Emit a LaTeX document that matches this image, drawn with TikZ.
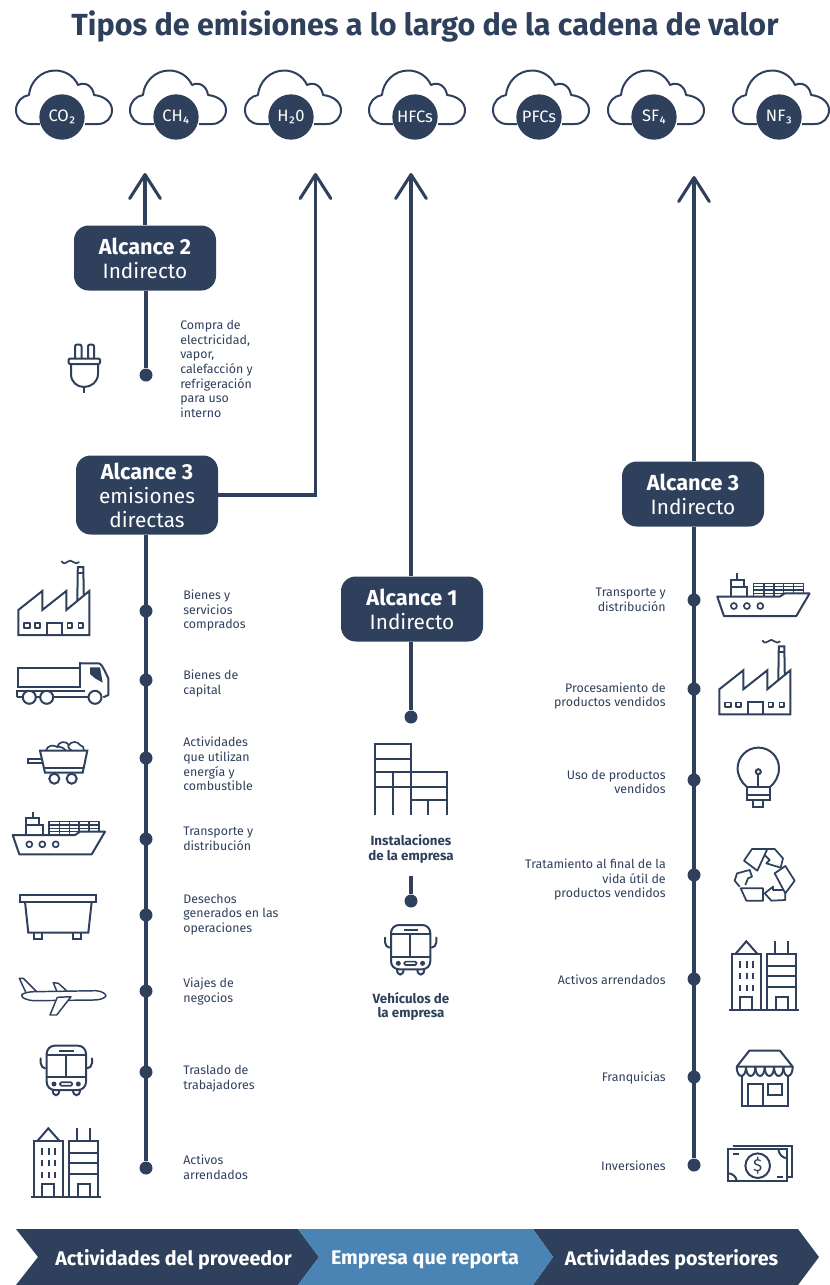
\documentclass[tikz,border=0pt]{standalone}
\usepackage{fontspec}
\setmainfont{Fira Sans}
\usetikzlibrary{arrows.meta,calc}
\definecolor{navy}{HTML}{2E405B}
\definecolor{midblue}{HTML}{4A84B5}
\newcommand\lowdigit[1]{\raisebox{1.2pt}{#1}}
\newcommand\boxhead[1]{{\fontsize{16.3}{18}\selectfont\bfseries #1}}
\tikzset{
 icon/.style={draw=navy,line width=1.5pt,line join=miter,fill=none},
 thin icon/.style={draw=navy,line width=1.25pt,line join=round,fill=none},
 flow/.style={draw=navy,line width=2.3pt},
 tipped/.style={-{Straight Barb[length=18pt,width=23pt,round]}},
 dotnode/.style={circle,fill=navy,minimum size=9.75pt,inner sep=0pt},
 gas/.style={circle,fill=navy,minimum size=34pt,inner sep=0pt,text=white,font=\fontsize{12.4}{14}\selectfont},
 scopebox/.style={rectangle,rounded corners=11pt,fill=navy,text=white,minimum width=106.5pt,inner sep=0pt,align=center,font=\fontsize{15.6}{18}\selectfont},
 lefttext/.style={anchor=west,inner sep=0pt,align=left,text=navy,font=\fontsize{9.3}{10.95}\selectfont},
 righttext/.style={anchor=east,inner sep=0pt,align=right,text=navy,font=\fontsize{9.3}{10.95}\selectfont},
 captiontext/.style={inner sep=0pt,align=center,text=navy,font=\fontsize{10}{11}\selectfont\bfseries},
 bannertext/.style={inner sep=0pt,text=white,font=\fontsize{14.8}{16}\selectfont\bfseries},
 cloudicon/.pic={
  \draw[icon,line join=round] (24,54) -- (14,54) .. controls (6,54) and (0,48) .. (0,40) .. controls (0,32) and (6,26) .. (13,25) .. controls (14,12) and (25,0.5) .. (39,0.5) .. controls (49,0.5) and (58,6) .. (62,15) .. controls (70,11) and (77,17) .. (78,25) .. controls (88,26) and (96,32) .. (96,40) .. controls (96,48) and (90,54) .. (82,54) -- (69,54);
 },
 factoryicon/.pic={
  \draw[icon] (1,75) -- (1,50) -- (25,31) -- (25,50) -- (49,31) -- (49,50) -- (72,31) -- (72,75) -- cycle;
  \draw[icon] (60,41) -- (60.5,7) -- (66,7) -- (66.5,36);
  \draw[thin icon] (60.5,13) -- (66,13);
  \draw[thin icon] (44,1) .. controls (46,4) and (48,4) .. (50,2) .. controls (52,0) and (54,0) .. (56,2) .. controls (58,4) and (60,3.5) .. (62,2);
  \draw[icon] (29.3,75) -- (29.3,63) -- (44.3,63) -- (44.3,75);
  \foreach \a/\b in {7/12.4,18/23,50.3/55,61.3/65.7}{\draw[thin icon] (\a,63.3) rectangle (\b,68);}
 },
 truckicon/.pic={
  \draw[icon] (1.3,7.3) rectangle (63,26.3);
  \draw[icon] (63,0.7) -- (63,27.3);
  \draw[icon,line join=round] (63,2.3) -- (81,2.3) .. controls (84,2.3) and (85,4) .. (91.3,17.3) -- (91.3,34) -- (86.3,36.3);
  \draw[icon] (0.3,36.3) -- (0.3,29.7) -- (68,29.7);
  \draw[icon] (36,36.3) -- (71.5,36.3);
  \draw[icon] (0.3,36.3) -- (6,36.3);
  \draw[icon] (18.8,36.3) -- (23.2,36.3);
  \foreach \a in {12.3,29.7,78}{\filldraw[icon,fill=white] (\a,36.3) circle[radius=6.5];}
  \fill[navy] (73,6.3) -- (83,6.3) -- (85.7,21.7) -- (78,17.3) -- (73,13) -- cycle;
 },
 carticon/.pic={
  \draw[icon] (12,10.7) -- (59.3,10.7) -- (54.7,32.7) -- (17,32.7) -- cycle;
  \draw[icon] (15.8,28.3) -- (55.5,28.3);
  \draw[icon] (13.7,19.3) -- (0.3,19.3) -- (0.3,23.3) -- (14.7,23.3);
  \draw[icon] (26.3,38.7) circle[radius=5];
  \draw[icon] (43.7,38.7) circle[radius=5];
  \draw[thin icon] (18,10.7) .. controls (19,5) and (26,4.5) .. (29,7) .. controls (31,1) and (38,0.5) .. (41,5) .. controls (43,1) and (50,1) .. (52,5) .. controls (55,5) and (56,8) .. (56,10.7);
  \draw[thin icon] (29,7) .. controls (32,6) and (36,8) .. (38,10.7);
  \draw[thin icon] (41,5) .. controls (39,6) and (41,9) .. (44,10.7);
 },
 shipicon/.pic={
  \draw[icon,line join=round] (0.7,24) -- (63,24) -- (68,20.7) -- (93,20.7) -- (79.7,43.3) -- (7.3,43.3) -- cycle;
  \foreach \a in {17.3,30.3,43.7}{\draw[thin icon] (\a,33.3) circle[radius=3];}
  \draw[icon] (14,24) -- (14,7.3) -- (27.3,7.3) -- (27.3,14) -- (30.7,14) -- (30.7,24);
  \draw[icon] (14,14) -- (27.3,14);
  \draw[icon] (20.7,0.7) -- (20.7,7.3);
  \draw[thin icon,line width=1.1pt] (37,24) -- (37,10.7) -- (87,10.7) -- (87,20.7);
  \foreach \a in {47.3,57.3,67,77}{\draw[thin icon,line width=1.1pt] (\a,10.7) -- (\a,21);}
  \draw[thin icon,line width=1.1pt] (37,14) -- (87,14);
  \draw[thin icon,line width=1.1pt] (37,17.3) -- (87,17.3);
  \draw[thin icon,line width=1.1pt] (37,20.7) -- (66,20.7);
  \foreach \a in {47.3,57.3}{\draw[thin icon,line width=1.1pt] (\a,20.7) -- (\a,24);}
 },
 binicon/.pic={
  \draw[icon] (0,1) rectangle (76,7.7);
  \draw[icon] (5,7.7) -- (8.3,38.7) -- (68.3,38.7) -- (71.7,7.7);
  \draw[icon] (14,38.7) -- (14,44.7) -- (22,44.7) -- (22,38.7);
  \draw[icon] (53.3,38.7) -- (53.3,44.7) -- (61.3,44.7) -- (61.3,38.7);
 },
 planeicon/.pic={
  \draw[thin icon,line width=1.1pt] (3.7,18) .. controls (5,16) and (10,15) .. (15.3,14.7) -- (78,13.7) .. controls (84,14) and (88,17) .. (88,19) .. controls (86,22) and (80,23) .. (75.3,23) -- (15.3,23.7) .. controls (9,23) and (3,21) .. (3.7,18) -- cycle;
  \draw[thin icon,line width=1.1pt] (18.7,14.7) -- (5.3,1.3) -- (1.3,1.3) -- (8,15.7);
  \draw[thin icon,line width=1.1pt] (48.7,13.7) -- (40.3,6.3) -- (35.3,5.7) -- (38.7,14);
  \filldraw[thin icon,line width=1.1pt,fill=white] (39.3,20.3) -- (53,19.7) -- (38.7,38) -- (32,38) -- cycle;
 },
 busicon/.pic={
  \draw[icon,rounded corners=6pt] (6.7,0.7) rectangle (46,45);
  \draw[icon] (6.7,10) -- (46,10);
  \draw[icon] (6.7,32.3) -- (46,32.3);
  \draw[icon] (26,10) -- (26,32.3);
  \draw[icon] (19.3,5.7) -- (34,5.7);
  \fill[navy] (14,39) circle[radius=2.5];
  \fill[navy] (38.3,39) circle[radius=2.5];
  \draw[thin icon,rounded corners=1pt] (20,37.3) rectangle (32.3,40.7);
  \draw[icon] (12.7,45) .. controls (12.7,52) and (19.3,52) .. (19.3,45);
  \draw[icon] (33,45) .. controls (33,52) and (40,52) .. (40,45);
  \draw[icon,line cap=round] (0.7,13.3) -- (0.7,18) .. controls (0.7,21) and (3,23) .. (5,23.3);
  \draw[icon,line cap=round] (52,13.3) -- (52,18) .. controls (52,21) and (49.7,23) .. (47.3,23.3);
 },
 towersicon/.pic={
  \draw[icon] (0,70.3) -- (70,70.3);
  \draw[icon] (3.3,70.3) -- (3.3,13.7) -- (31.7,13.7) -- (31.7,70.3);
  \draw[icon] (6.7,13.7) -- (17.3,1.3) -- (28.3,13.7);
  \foreach \a in {11.3,17.7,24}{
   \draw[icon] (\a,21.3) -- (\a,28);
   \draw[icon] (\a,33) -- (\a,39);
   \draw[icon] (\a,44.7) -- (\a,50.7);
  }
  \draw[icon] (11.3,70.3) -- (11.3,57) -- (23.3,57) -- (23.3,70.3);
  \draw[icon] (38.3,70.3) -- (38.3,13.7) -- (67.3,13.7) -- (67.3,70.3);
  \foreach \a in {25.7,36.3,47.3}{\draw[icon] (38.3,\a) -- (67.3,\a);}
  \draw[icon] (46,1.3) -- (46,13.7);
  \draw[icon] (59,1.3) -- (59,13.7);
  \draw[icon] (46.7,70.3) -- (46.7,57) -- (59,57) -- (59,70.3);
 },
}
\begin{document}
\begin{tikzpicture}[x=0.75pt,y=-0.75pt]
\useasboundingbox (0,0) rectangle (829,1285);
% title
\node[inner sep=0pt,text=navy,font=\fontsize{22.9}{26}\selectfont\bfseries] (title) at (425,26.5) {Tipos de emisiones a lo largo de la cadena de valor};
% clouds
\foreach \a in {16,130,245,369,493,608,733}{\pic at (\a,70) {cloudicon};}
\node[gas] (g1) at (62,117) {CO\lowdigit{₂}};
\node[gas] (g2) at (176,117) {CH\lowdigit{₄}};
\node[gas] (g3) at (291,117) {H\lowdigit{₂}0};
\node[gas] (g4) at (415,117) {HFCs};
\node[gas] (g5) at (539,117) {PFCs};
\node[gas] (g6) at (654,117) {SF\lowdigit{₄}};
\node[gas] (g7) at (779,117) {NF\lowdigit{₃}};
% arrow tips
\coordinate (t2) at (145,173);
\coordinate (t3) at (315.5,173);
\coordinate (t1) at (411,173);
\coordinate (t4) at (694,176);
% boxes
\node[scopebox,minimum height=48.75pt] (a2) at (145,258) {\boxhead{Alcance 2}\\Indirecto};
\node[scopebox,minimum height=59.25pt] (a3) at (147,495) {\boxhead{Alcance 3}\\emisiones\\directas};
\node[scopebox,minimum height=48.75pt] (a1) at (412,609) {\boxhead{Alcance 1}\\Indirecto};
\node[scopebox,minimum height=48.75pt] (a4) at (693,494) {\boxhead{Alcance 3}\\Indirecto};
% dots
\node[dotnode] (d0) at (146,375) {};
\foreach \n/\y in {l1/611,l2/680,l3/758,l4/839,l5/915,l6/991,l7/1072,l8/1168}{\node[dotnode] (\n) at (146,\y) {};}
\node[dotnode] (c1) at (411,717) {};
\node[dotnode] (c2) at (411,901) {};
\coordinate (c2top) at (411,876);
\foreach \n/\y in {r1/600,r2/689,r3/780,r4/875,r5/979,r6/1077,r7/1165}{\node[dotnode] (\n) at (694,\y) {};}
% connectors
\draw[flow,tipped] (a2.north) -- (t2);
\draw[flow] (a2.south -| d0) -- (d0);
\draw[flow,tipped] (a3.east) -- (a3.east -| t3) -- (t3);
\draw[flow] (a3.south -| l1) -- (l8);
\draw[flow,tipped] (a1.north -| t1) -- (t1);
\draw[flow] (a1.south -| c1) -- (c1);
\draw[flow] (c2top) -- (c2);
\draw[flow,tipped] (a4.north -| t4) -- (t4);
\draw[flow] (a4.south -| r1) -- (r7);
% left texts
\node[lefttext] (x0) at (180,369) {Compra de\\electricidad,\\vapor,\\calefacción y\\refrigeración\\para uso\\interno};
\node[lefttext] (x1) at (183,610.5) {Bienes y\\servicios\\comprados};
\node[lefttext] (x2) at (183,683.5) {Bienes de\\capital};
\node[lefttext] (x3) at (183,764) {Actividades\\que utilizan\\energía y\\combustible};
\node[lefttext] (x4) at (183,838.5) {Transporte y\\distribución};
\node[lefttext] (x5) at (183,914.5) {Desechos\\generados en las\\operaciones};
\node[lefttext] (x6) at (183,991.5) {Viajes de\\negocios};
\node[lefttext] (x7) at (183,1078.5) {Traslado de\\trabajadores};
\node[lefttext] (x8) at (183,1167) {Activos\\arrendados};
% centre captions
\node[captiontext] (k1) at (411,849) {Instalaciones\\de la empresa};
\node[captiontext] (k2) at (411,1006.5) {Vehículos de\\la empresa};
% right texts
\node[righttext] (y1) at (666,600) {Transporte y\\distribución};
\node[righttext] (y2) at (666,696) {Procesamiento de\\productos vendidos};
\node[righttext] (y3) at (666,782) {Uso de productos\\vendidos};
\node[righttext] (y4) at (666,879.5) {Tratamiento al final de la\\vida útil de\\productos vendidos};
\node[righttext] (y5) at (666,980) {Activos arrendados};
\node[righttext] (y6) at (666,1078) {Franquicias};
\node[righttext] (y7) at (666,1166) {Inversiones};
% plug
\draw[icon,line cap=round,rounded corners=1.5pt] (75,358) -- (75,344.5) -- (81.5,344.5) -- (81.5,358);
\draw[icon,line cap=round,rounded corners=1.5pt] (88,358) -- (88,344.5) -- (94,344.5) -- (94,358);
\draw[icon,rounded corners=1pt] (68.5,358.5) rectangle (100,364);
\draw[icon] (71,364) -- (71,374) .. controls (71,382) and (77,387) .. (84,387) .. controls (91,387) and (98,382) .. (98,374) -- (98,364);
\draw[icon] (84,387) -- (84,393);
% left icons
\pic at (17.3,560) {factoryicon};
\pic at (17,661) {truckicon};
\pic at (28,740) {carticon};
\pic at (12,811) {shipicon};
\pic at (20,894) {binicon};
\pic at (18,977) {planeicon};
\pic at (40,1045) {busicon};
\pic at (31,1127) {towersicon};
% centre icons
\begin{scope}[shift={(374,743)}]
\draw[icon] (1,72) -- (1,1) -- (37,1) -- (37,72);
\draw[icon] (1,16.3) -- (37,16.3);
\draw[icon] (1,29.3) -- (72.7,29.3) -- (72.7,72);
\draw[icon] (1,43.7) -- (72.7,43.7);
\draw[icon] (19.3,29.3) -- (19.3,72);
\draw[icon] (37,57) -- (72.7,57);
\draw[icon] (54.3,57) -- (54.3,72);
\end{scope}
\pic at (384.3,924.3) {busicon};
% right icons
\pic at (716.6,572.7) {shipicon};
\pic at (718.3,639.3) {factoryicon};
% bulb
\draw[icon] (747,787) .. controls (742,783) and (737.6,776) .. (737.6,768.3) .. controls (737.6,757) and (747,747.6) .. (758.3,747.6) .. controls (770,747.6) and (779,757) .. (779,768.3) .. controls (779,776) and (775,783) .. (770,787);
\draw[icon] (746.7,787) rectangle (770,800);
\draw[icon] (746.7,795) -- (770,795);
\draw[icon] (752.7,800) -- (752.7,806.7) -- (763.3,806.7) -- (763.3,800);
\draw[icon] (758.3,771.7) circle[radius=2.5];
\draw[icon] (758.3,774.5) -- (758.3,787);
% recycle
\begin{scope}[shift={(728,840)},x=0.25pt,y=-0.25pt]
\draw[icon,line width=1.3pt,line join=round] (48,62) -- (72,27) -- (118,27) -- (88,92) -- cycle;
\draw[icon,line width=1.3pt,line join=round] (118,27) -- (140,27) -- (165,55) -- (158,83) -- (115,70) -- (125,60) -- (110,45);
\draw[icon,line width=1.3pt,line join=round] (140,100) -- (172,78) -- (200,122) -- (172,160) -- cycle;
\draw[icon,line width=1.3pt,line join=round] (172,160) -- (172,180) -- (130,182) -- (110,160) -- (135,140) -- (135,150) -- (165,150);
\draw[icon,line width=1.3pt,line join=round] (38,145) -- (105,145) -- (105,182) -- (55,182) -- cycle;
\draw[icon,line width=1.3pt,line join=round] (35,140) -- (20,122) -- (27,100) -- (65,90) -- (72,110) -- (60,115) -- (52,135);
\end{scope}
% towers
\pic at (729,940) {towersicon};
% store
\draw[icon,line join=round] (736.7,1066.7) -- (749.3,1050.7) -- (780,1050.7) -- (792.7,1066.7) -- cycle;
\foreach \a/\b in {736.7/746,746/755.4,755.4/764.7,764.7/774,774/783.4,783.4/792.7}{\draw[icon] (\a,1066.7) .. controls (\a,1079) and (\b,1079) .. (\b,1066.7);}
\draw[icon] (741.7,1075) -- (741.7,1106) -- (788.3,1106) -- (788.3,1075);
\draw[icon] (747.7,1106) -- (747.7,1084) -- (763.3,1084) -- (763.3,1106);
\draw[icon] (768.3,1084) rectangle (781.7,1095);
% money
\draw[icon] (728.3,1149.3) rectangle (787.3,1180.7);
\draw[icon] (733.3,1146) -- (791.7,1146) -- (791.7,1177.3) -- (787.3,1177.3);
\draw[icon] (757.7,1165.7) circle[radius=12.3];
\node[inner sep=0pt,text=navy,font=\fontsize{13}{14}\selectfont] (dollar) at (757.7,1165.7) {\$};
\draw[icon] (778.3,1149.3) .. controls (779,1154) and (782,1158) .. (787.3,1158.3);
\draw[icon] (728.3,1173.3) .. controls (732,1173.5) and (736,1176) .. (736.7,1180.7);
\draw[icon] (733.3,1154) -- (739.3,1154);
\draw[icon] (776.7,1176.7) -- (783.3,1176.7);
% banner
\fill[navy] (16,1229) -- (298,1229) -- (319,1257) -- (298,1285) -- (16,1285) -- (38,1257) -- cycle;
\fill[navy] (533,1229) -- (798,1229) -- (819,1257) -- (798,1285) -- (533,1285) -- (553,1257) -- cycle;
\fill[midblue] (298,1229) -- (533,1229) -- (553,1257) -- (533,1285) -- (298,1285) -- (319,1257) -- cycle;
\node[bannertext] (b1) at (173.5,1259.5) {Actividades del proveedor};
\node[bannertext] (b2) at (425,1259.5) {Empresa que reporta};
\node[bannertext] (b3) at (671.5,1259.5) {Actividades posteriores};
\end{tikzpicture}
\end{document}
